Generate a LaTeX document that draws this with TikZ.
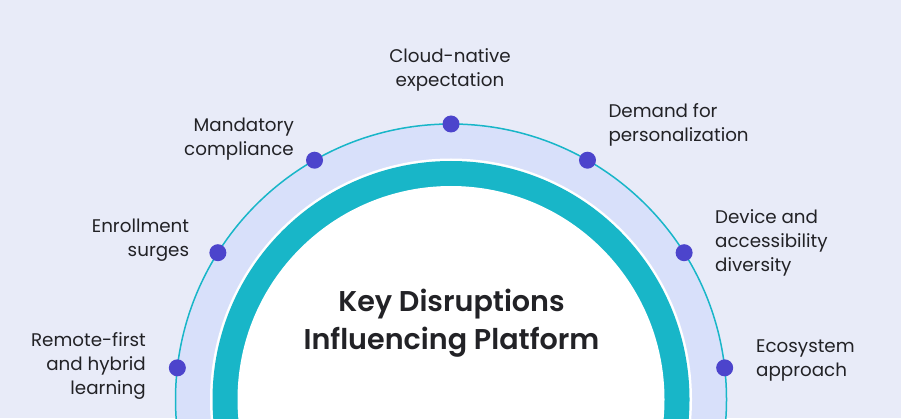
\documentclass[tikz,border=0pt]{standalone}
\usepackage{fontspec}
\setmainfont{Poppins}
\newfontfamily\titlefont{Poppins}[UprightFont=* SemiBold]
\usetikzlibrary{calc}
\definecolor{bgcol}{RGB}{232,235,248}
\definecolor{bandcol}{RGB}{216,224,250}
\definecolor{tealcol}{RGB}{24,182,200}
\definecolor{dotcol}{RGB}{76,68,204}
\definecolor{txtcol}{RGB}{34,34,38}
\tikzset{
  dotmark/.style={circle, fill=dotcol, inner sep=0pt, minimum size=17pt},
  lbl/.style={inner sep=0pt, text=txtcol, font=\fontsize{18.3}{24.3}\selectfont},
  lblL/.style={lbl, align=left, anchor=base west},
  lblR/.style={lbl, align=right, anchor=base east},
  lblC/.style={lbl, align=center, anchor=base},
  titlestyle/.style={inner sep=0pt, text=txtcol, align=center, anchor=base, font=\titlefont\fontsize{28.6}{37.6}\selectfont}
}
\begin{document}
\begin{tikzpicture}[x=1pt,y=1pt]
\useasboundingbox (0,0) rectangle (901,418);
\fill[bgcol] (0,0) rectangle (901,418);
\begin{scope}
\clip (0,0) rectangle (901,418);
\coordinate (c) at (451,18.5);
\fill[bandcol] (c) circle[radius=275.5pt];
\draw[tealcol, line width=1.5pt] (c) circle[radius=275.5pt];
\fill[white] (c) circle[radius=241pt];
\fill[tealcol] (c) circle[radius=238.5pt];
\fill[white] (c) circle[radius=213.5pt];
\end{scope}
\node[dotmark] (d1) at ($(c)+(173.4:275.5)$) {};
\node[dotmark] (d2) at ($(c)+(147.8:275.5)$) {};
\node[dotmark] (d3) at ($(c)+(119.7:275.5)$) {};
\node[dotmark] (d4) at ($(c)+(90:275.5)$) {};
\node[dotmark] (d5) at ($(c)+(60.3:275.5)$) {};
\node[dotmark] (d6) at ($(c)+(32.2:275.5)$) {};
\node[dotmark] (d7) at ($(c)+(6.6:275.5)$) {};
\node[lblR] (t1) at (146,23.3) {Remote-first\\and hybrid\\learning};
\node[lblR] (t2) at (189.3,161.3) {Enrollment\\surges};
\node[lblR] (t3) at (294,262) {Mandatory\\compliance};
\node[lblC] (t4) at (450,331.3) {Cloud-native\\expectation};
\node[lblL] (t5) at (608.3,276.3) {Demand for\\personalization};
\node[lblL] (t6) at (715,146.3) {Device and\\accessibility\\diversity};
\node[lblL] (t7) at (756,41.3) {Ecosystem\\approach};
\node[titlestyle] (title) at (451.5,68.7) {Key Disruptions\\Influencing Platform};
\end{tikzpicture}
\end{document}
